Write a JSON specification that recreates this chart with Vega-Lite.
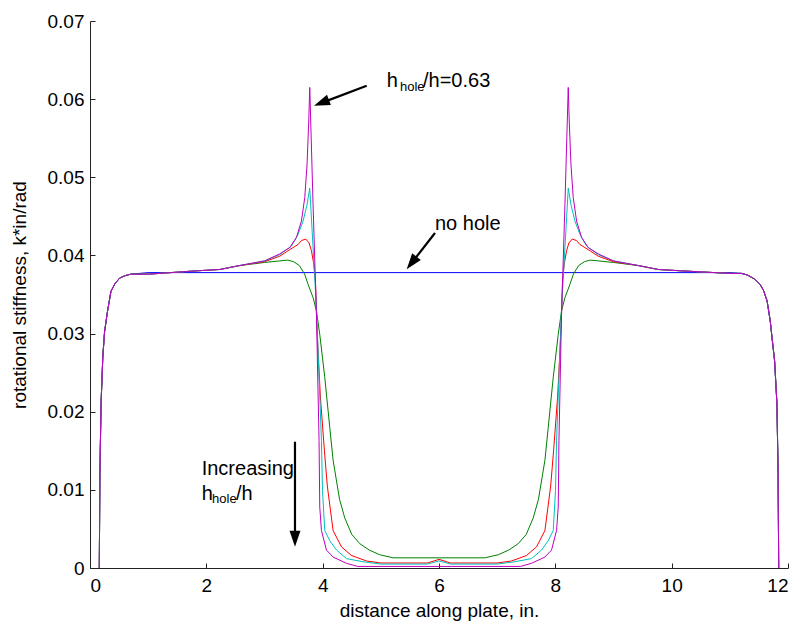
{
  "$schema": "https://vega.github.io/schema/vega-lite/v6.json",
  "width": 698,
  "height": 547,
  "autosize": {"type": "none"},
  "padding": {"left": 90, "top": 21, "right": 14, "bottom": 58},
  "background": "white",
  "config": {
    "view": {"stroke": null},
    "font": "Liberation Sans",
    "axis": {
      "grid": false,
      "domainColor": "#222222",
      "tickColor": "#222222",
      "labelColor": "#000000",
      "titleColor": "#000000",
      "labelFont": "Liberation Sans",
      "titleFont": "Liberation Sans",
      "labelFontSize": 19,
      "titleFontSize": 19,
      "titleFontWeight": "normal",
      "tickSize": -5,
      "domainWidth": 1,
      "tickWidth": 1
    }
  },
  "datasets": {
    "noHole": [
      {"x": 0.16, "y": 0}, {"x": 0.17, "y": 0.012}, {"x": 0.19, "y": 0.021}, {"x": 0.22, "y": 0.027}, {"x": 0.25, "y": 0.0302}, {"x": 0.3, "y": 0.0328}, {"x": 0.36, "y": 0.0354}, {"x": 0.43, "y": 0.0364}, {"x": 0.51, "y": 0.0371}, {"x": 0.6, "y": 0.0374}, {"x": 0.7, "y": 0.0376},
      {"x": 1.0, "y": 0.0378}, {"x": 11.0, "y": 0.0378},
      {"x": 11.2, "y": 0.0377}, {"x": 11.3, "y": 0.0375}, {"x": 11.42, "y": 0.037}, {"x": 11.52, "y": 0.0363}, {"x": 11.58, "y": 0.0355}, {"x": 11.64, "y": 0.0342}, {"x": 11.695, "y": 0.0316}, {"x": 11.725, "y": 0.0295}, {"x": 11.77, "y": 0.0265}, {"x": 11.81, "y": 0.021}, {"x": 11.83, "y": 0.012}, {"x": 11.84, "y": 0}
    ],
    "green": [
      {"x": 0.16, "y": 0}, {"x": 0.17, "y": 0.012}, {"x": 0.19, "y": 0.021}, {"x": 0.22, "y": 0.027}, {"x": 0.25, "y": 0.0302}, {"x": 0.3, "y": 0.0328}, {"x": 0.36, "y": 0.0354}, {"x": 0.43, "y": 0.0364}, {"x": 0.51, "y": 0.0371}, {"x": 0.6, "y": 0.0374}, {"x": 0.7, "y": 0.0376},
      {"x": 1.0, "y": 0.0376}, {"x": 1.77, "y": 0.038}, {"x": 2.23, "y": 0.0382}, {"x": 2.57, "y": 0.0387}, {"x": 3.0, "y": 0.0391},
      {"x": 3.262, "y": 0.0393}, {"x": 3.4, "y": 0.0394}, {"x": 3.5, "y": 0.0392}, {"x": 3.6, "y": 0.0387}, {"x": 3.69, "y": 0.0376}, {"x": 3.749, "y": 0.0363}, {"x": 3.835, "y": 0.0346}, {"x": 3.893, "y": 0.0329}, {"x": 3.95, "y": 0.0299}, {"x": 4.036, "y": 0.0244}, {"x": 4.122, "y": 0.018}, {"x": 4.179, "y": 0.0138}, {"x": 4.23, "y": 0.0115}, {"x": 4.29, "y": 0.0088}, {"x": 4.38, "y": 0.0064}, {"x": 4.5, "y": 0.0043}, {"x": 4.64, "y": 0.0031}, {"x": 4.8, "y": 0.0023}, {"x": 4.98, "y": 0.0017}, {"x": 5.21, "y": 0.0013},
      {"x": 6.79, "y": 0.0013}, {"x": 7.02, "y": 0.0017}, {"x": 7.2, "y": 0.0023}, {"x": 7.36, "y": 0.0031}, {"x": 7.5, "y": 0.0043}, {"x": 7.62, "y": 0.0064}, {"x": 7.71, "y": 0.0088}, {"x": 7.77, "y": 0.0115}, {"x": 7.821, "y": 0.0138}, {"x": 7.878, "y": 0.018}, {"x": 7.964, "y": 0.0244}, {"x": 8.05, "y": 0.0299}, {"x": 8.107, "y": 0.0329}, {"x": 8.165, "y": 0.0346}, {"x": 8.251, "y": 0.0363}, {"x": 8.31, "y": 0.0376}, {"x": 8.4, "y": 0.0387}, {"x": 8.5, "y": 0.0392}, {"x": 8.6, "y": 0.0394}, {"x": 8.738, "y": 0.0393},
      {"x": 9.0, "y": 0.0391}, {"x": 9.43, "y": 0.0387}, {"x": 9.77, "y": 0.0382}, {"x": 10.23, "y": 0.038}, {"x": 11.0, "y": 0.0377},
      {"x": 11.2, "y": 0.0377}, {"x": 11.3, "y": 0.0375}, {"x": 11.42, "y": 0.037}, {"x": 11.52, "y": 0.0363}, {"x": 11.58, "y": 0.0355}, {"x": 11.64, "y": 0.0342}, {"x": 11.695, "y": 0.0316}, {"x": 11.725, "y": 0.0295}, {"x": 11.77, "y": 0.0265}, {"x": 11.81, "y": 0.021}, {"x": 11.83, "y": 0.012}, {"x": 11.84, "y": 0}
    ],
    "red": [
      {"x": 0.16, "y": 0}, {"x": 0.17, "y": 0.012}, {"x": 0.19, "y": 0.021}, {"x": 0.22, "y": 0.027}, {"x": 0.25, "y": 0.0302}, {"x": 0.3, "y": 0.0328}, {"x": 0.36, "y": 0.0354}, {"x": 0.43, "y": 0.0364}, {"x": 0.51, "y": 0.0371}, {"x": 0.6, "y": 0.0374}, {"x": 0.7, "y": 0.0376},
      {"x": 1.0, "y": 0.0376}, {"x": 1.77, "y": 0.038}, {"x": 2.23, "y": 0.0382}, {"x": 2.57, "y": 0.0387}, {"x": 3.0, "y": 0.0392},
      {"x": 3.262, "y": 0.0399}, {"x": 3.405, "y": 0.0406}, {"x": 3.491, "y": 0.041}, {"x": 3.577, "y": 0.0414}, {"x": 3.635, "y": 0.0419}, {"x": 3.709, "y": 0.0421}, {"x": 3.766, "y": 0.0416}, {"x": 3.807, "y": 0.0406}, {"x": 3.847, "y": 0.0389}, {"x": 3.876, "y": 0.0367}, {"x": 3.9, "y": 0.031}, {"x": 3.96, "y": 0.022}, {"x": 4.03, "y": 0.015}, {"x": 4.08, "y": 0.0105}, {"x": 4.179, "y": 0.0048}, {"x": 4.323, "y": 0.0027}, {"x": 4.495, "y": 0.0016}, {"x": 4.753, "y": 0.0009}, {"x": 5.0, "y": 0.00064}, {"x": 5.8, "y": 0.00064}, {"x": 6.0, "y": 0.0011}, {"x": 6.2, "y": 0.00064},
      {"x": 7.0, "y": 0.00064}, {"x": 7.247, "y": 0.0009}, {"x": 7.505, "y": 0.0016}, {"x": 7.677, "y": 0.0027}, {"x": 7.821, "y": 0.0048}, {"x": 7.92, "y": 0.0105}, {"x": 7.97, "y": 0.015}, {"x": 8.04, "y": 0.022}, {"x": 8.1, "y": 0.031}, {"x": 8.124, "y": 0.0367}, {"x": 8.153, "y": 0.0389}, {"x": 8.193, "y": 0.0406}, {"x": 8.234, "y": 0.0416}, {"x": 8.291, "y": 0.0421}, {"x": 8.365, "y": 0.0419}, {"x": 8.423, "y": 0.0414}, {"x": 8.509, "y": 0.041}, {"x": 8.595, "y": 0.0406}, {"x": 8.738, "y": 0.0399},
      {"x": 9.0, "y": 0.0392}, {"x": 9.43, "y": 0.0387}, {"x": 9.77, "y": 0.0382}, {"x": 10.23, "y": 0.038}, {"x": 11.0, "y": 0.0377},
      {"x": 11.2, "y": 0.0377}, {"x": 11.3, "y": 0.0375}, {"x": 11.42, "y": 0.037}, {"x": 11.52, "y": 0.0363}, {"x": 11.58, "y": 0.0355}, {"x": 11.64, "y": 0.0342}, {"x": 11.695, "y": 0.0316}, {"x": 11.725, "y": 0.0295}, {"x": 11.77, "y": 0.0265}, {"x": 11.81, "y": 0.021}, {"x": 11.83, "y": 0.012}, {"x": 11.84, "y": 0}
    ],
    "cyan": [
      {"x": 0.16, "y": 0}, {"x": 0.17, "y": 0.012}, {"x": 0.19, "y": 0.021}, {"x": 0.22, "y": 0.027}, {"x": 0.25, "y": 0.0302}, {"x": 0.3, "y": 0.0328}, {"x": 0.36, "y": 0.0354}, {"x": 0.43, "y": 0.0364}, {"x": 0.51, "y": 0.0371}, {"x": 0.6, "y": 0.0374}, {"x": 0.7, "y": 0.0376},
      {"x": 1.0, "y": 0.0376}, {"x": 1.77, "y": 0.038}, {"x": 2.23, "y": 0.0382}, {"x": 2.57, "y": 0.0387}, {"x": 3.0, "y": 0.0393},
      {"x": 3.262, "y": 0.0401}, {"x": 3.463, "y": 0.0412}, {"x": 3.577, "y": 0.0427}, {"x": 3.663, "y": 0.0444}, {"x": 3.732, "y": 0.0465}, {"x": 3.778, "y": 0.0486}, {"x": 3.835, "y": 0.041}, {"x": 3.893, "y": 0.0333}, {"x": 3.979, "y": 0.0163}, {"x": 3.997, "y": 0.0099}, {"x": 4.036, "y": 0.0048}, {"x": 4.122, "y": 0.0035}, {"x": 4.237, "y": 0.0023}, {"x": 4.41, "y": 0.0012}, {"x": 4.695, "y": 0.0008}, {"x": 5.0, "y": 0.0005}, {"x": 5.8, "y": 0.0005}, {"x": 6.0, "y": 0.0009}, {"x": 6.2, "y": 0.0005},
      {"x": 7.0, "y": 0.0005}, {"x": 7.305, "y": 0.0008}, {"x": 7.59, "y": 0.0012}, {"x": 7.763, "y": 0.0023}, {"x": 7.878, "y": 0.0035}, {"x": 7.964, "y": 0.0048}, {"x": 8.003, "y": 0.0099}, {"x": 8.021, "y": 0.0163}, {"x": 8.107, "y": 0.0333}, {"x": 8.165, "y": 0.041}, {"x": 8.222, "y": 0.0486}, {"x": 8.268, "y": 0.0465}, {"x": 8.337, "y": 0.0444}, {"x": 8.423, "y": 0.0427}, {"x": 8.537, "y": 0.0412}, {"x": 8.738, "y": 0.0401},
      {"x": 9.0, "y": 0.0393}, {"x": 9.43, "y": 0.0387}, {"x": 9.77, "y": 0.0382}, {"x": 10.23, "y": 0.038}, {"x": 11.0, "y": 0.0377},
      {"x": 11.2, "y": 0.0377}, {"x": 11.3, "y": 0.0375}, {"x": 11.42, "y": 0.037}, {"x": 11.52, "y": 0.0363}, {"x": 11.58, "y": 0.0355}, {"x": 11.64, "y": 0.0342}, {"x": 11.695, "y": 0.0316}, {"x": 11.725, "y": 0.0295}, {"x": 11.77, "y": 0.0265}, {"x": 11.81, "y": 0.021}, {"x": 11.83, "y": 0.012}, {"x": 11.84, "y": 0}
    ],
    "magenta": [
      {"x": 0.16, "y": 0}, {"x": 0.17, "y": 0.012}, {"x": 0.19, "y": 0.021}, {"x": 0.22, "y": 0.027}, {"x": 0.25, "y": 0.0302}, {"x": 0.3, "y": 0.0328}, {"x": 0.36, "y": 0.0354}, {"x": 0.43, "y": 0.0364}, {"x": 0.51, "y": 0.0371}, {"x": 0.6, "y": 0.0374}, {"x": 0.7, "y": 0.0376},
      {"x": 1.0, "y": 0.0376}, {"x": 1.77, "y": 0.038}, {"x": 2.23, "y": 0.0382}, {"x": 2.57, "y": 0.0387}, {"x": 3.0, "y": 0.0393},
      {"x": 3.262, "y": 0.0402}, {"x": 3.434, "y": 0.041}, {"x": 3.549, "y": 0.0423}, {"x": 3.635, "y": 0.0444}, {"x": 3.692, "y": 0.0474}, {"x": 3.732, "y": 0.0517}, {"x": 3.761, "y": 0.0572}, {"x": 3.778, "y": 0.0615}, {"x": 3.835, "y": 0.0465}, {"x": 3.893, "y": 0.0325}, {"x": 3.938, "y": 0.0163}, {"x": 3.95, "y": 0.0078}, {"x": 3.979, "y": 0.0048}, {"x": 4.065, "y": 0.0023}, {"x": 4.179, "y": 0.0014}, {"x": 4.41, "y": 0.0006}, {"x": 4.6, "y": 0.0002},
      {"x": 7.4, "y": 0.0002}, {"x": 7.59, "y": 0.0006}, {"x": 7.821, "y": 0.0014}, {"x": 7.935, "y": 0.0023}, {"x": 8.021, "y": 0.0048}, {"x": 8.05, "y": 0.0078}, {"x": 8.062, "y": 0.0163}, {"x": 8.107, "y": 0.0325}, {"x": 8.165, "y": 0.0465}, {"x": 8.222, "y": 0.0615}, {"x": 8.239, "y": 0.0572}, {"x": 8.268, "y": 0.0517}, {"x": 8.308, "y": 0.0474}, {"x": 8.365, "y": 0.0444}, {"x": 8.451, "y": 0.0423}, {"x": 8.566, "y": 0.041}, {"x": 8.738, "y": 0.0402},
      {"x": 9.0, "y": 0.0393}, {"x": 9.43, "y": 0.0387}, {"x": 9.77, "y": 0.0382}, {"x": 10.23, "y": 0.038}, {"x": 11.0, "y": 0.0377},
      {"x": 11.2, "y": 0.0377}, {"x": 11.3, "y": 0.0375}, {"x": 11.42, "y": 0.037}, {"x": 11.52, "y": 0.0363}, {"x": 11.58, "y": 0.0355}, {"x": 11.64, "y": 0.0342}, {"x": 11.695, "y": 0.0316}, {"x": 11.725, "y": 0.0295}, {"x": 11.77, "y": 0.0265}, {"x": 11.81, "y": 0.021}, {"x": 11.83, "y": 0.012}, {"x": 11.84, "y": 0}
    ],
    "mainText": [
      {"x": 5.101, "y": 0.0616, "t": "h"},
      {"x": 5.725, "y": 0.0616, "t": "/h=0.63"},
      {"x": 5.931, "y": 0.04326, "t": "no hole"},
      {"x": 1.92, "y": 0.0119, "t": "Increasing"},
      {"x": 1.92, "y": 0.0087, "t": "h"},
      {"x": 2.51, "y": 0.0087, "t": "/h"}
    ],
    "subText": [
      {"x": 5.329, "y": 0.061, "t": "hole"},
      {"x": 2.098, "y": 0.00832, "t": "hole"}
    ],
    "arrowLines": [
      {"a": "A", "x": 4.757, "y": 0.06172}, {"a": "A", "x": 3.98, "y": 0.05952},
      {"a": "B", "x": 5.931, "y": 0.04287}, {"a": "B", "x": 5.529, "y": 0.03903},
      {"a": "C", "x": 3.524, "y": 0.01616}, {"a": "C", "x": 3.524, "y": 0.00375}
    ],
    "headA": [{"x": 3.851, "y": 0.05916}],
    "headB": [{"x": 5.444, "y": 0.03823}],
    "headC": [{"x": 3.524, "y": 0.002726}]
  },
  "encoding": {
    "x": {
      "field": "x", "type": "quantitative",
      "scale": {"domain": [0, 12], "nice": false, "zero": false},
      "axis": {"values": [0, 2, 4, 6, 8, 10, 12], "title": "distance along plate, in.", "labelPadding": 13, "titlePadding": 6}
    },
    "y": {
      "field": "y", "type": "quantitative",
      "scale": {"domain": [0, 0.07], "nice": false, "zero": false},
      "axis": {"values": [0, 0.01, 0.02, 0.03, 0.04, 0.05, 0.06, 0.07], "format": "~g", "title": "rotational stiffness, k*in/rad", "labelPadding": 11, "titlePadding": 18}
    }
  },
  "layer": [
    {"data": {"name": "noHole"}, "mark": {"type": "line", "color": "#0000ff", "strokeWidth": 1, "clip": true}},
    {"data": {"name": "green"}, "mark": {"type": "line", "color": "#008000", "strokeWidth": 1, "clip": true}},
    {"data": {"name": "red"}, "mark": {"type": "line", "color": "#ff0000", "strokeWidth": 1, "clip": true}},
    {"data": {"name": "cyan"}, "mark": {"type": "line", "color": "#00bfbf", "strokeWidth": 1, "clip": true}},
    {"data": {"name": "magenta"}, "mark": {"type": "line", "color": "#bf00bf", "strokeWidth": 1, "clip": true}},
    {"data": {"name": "arrowLines"}, "mark": {"type": "line", "color": "#000000", "strokeWidth": 2.2, "strokeCap": "butt"}, "encoding": {"detail": {"field": "a", "type": "nominal"}}},
    {"data": {"name": "headA"}, "mark": {"type": "point", "shape": "M0,0L5.5,16L-5.5,16Z", "size": 4, "filled": true, "color": "#000000", "opacity": 1, "angle": 249}},
    {"data": {"name": "headB"}, "mark": {"type": "point", "shape": "M0,0L5.5,16L-5.5,16Z", "size": 4, "filled": true, "color": "#000000", "opacity": 1, "angle": 218}},
    {"data": {"name": "headC"}, "mark": {"type": "point", "shape": "M0,0L5.5,16L-5.5,16Z", "size": 4, "filled": true, "color": "#000000", "opacity": 1, "angle": 180}},
    {"data": {"name": "mainText"}, "mark": {"type": "text", "align": "left", "baseline": "alphabetic", "fontSize": 20, "font": "Liberation Sans", "color": "#000000"}, "encoding": {"text": {"field": "t", "type": "nominal"}}},
    {"data": {"name": "subText"}, "mark": {"type": "text", "align": "left", "baseline": "alphabetic", "fontSize": 13, "font": "Liberation Sans", "color": "#000000"}, "encoding": {"text": {"field": "t", "type": "nominal"}}}
  ]
}
